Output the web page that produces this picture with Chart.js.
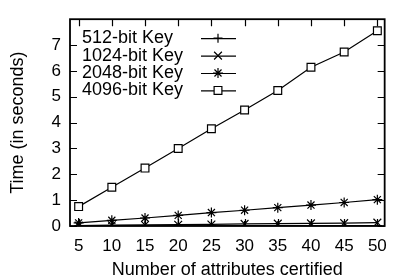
<!DOCTYPE html>
<html>
<head>
<meta charset="utf-8">
<script src="https://cdn.jsdelivr.net/npm/chart.js@4.4.0/dist/chart.umd.min.js"></script>
<style>
  html, body { margin: 0; padding: 0; background: #fff; }
  #wrap { width: 397px; height: 280px; }
</style>
</head>
<body>
<div id="wrap"><canvas id="chart"></canvas></div>
<script>
const attrs = [5, 10, 15, 20, 25, 30, 35, 40, 45, 50]
const labels = ["512-bit Key", "1024-bit Key", "2048-bit Key", "4096-bit Key"]
const key512 = [0.01, 0.01, 0.01, 0.01, 0.01, 0.02, 0.02, 0.02, 0.02, 0.02]
const key1024 = [0.02, 0.03, 0.04, 0.05, 0.06, 0.08, 0.09, 0.10, 0.11, 0.13]
const key2048 = [0.12, 0.22, 0.31, 0.41, 0.52, 0.61, 0.71, 0.81, 0.91, 1.02]
const key4096 = [0.75, 1.50, 2.24, 3.00, 3.76, 4.49, 5.24, 6.14, 6.73, 7.55]
const yTicks = [0, 1, 2, 3, 4, 5, 6, 7]

const FONT = "'Liberation Sans', Arial, Helvetica, sans-serif"

function pts(vals){
    return attrs.map((a, i) => ({x: a, y: vals[i]}))
}

function series(label, vals, style, radius){
    return {
        label: label,
        data: pts(vals),
        borderColor: '#000',
        borderWidth: 1.2,
        backgroundColor: '#fff',
        pointStyle: style,
        pointRadius: radius,
        pointBorderColor: '#000',
        pointBackgroundColor: '#fff',
        pointBorderWidth: 1.2,
        fill: false,
        tension: 0
    }
}

/**
 * gnuplot-like frame: box + inward ticks on all four sides
 */
const framePlugin = {
    id: 'frame',
    afterDraw(chart){
        const ctx = chart.ctx
        const a = chart.chartArea
        const xs = chart.scales.x, ys = chart.scales.y
        const len = 7
        ctx.save()
        ctx.strokeStyle = '#000'
        ctx.lineWidth = 1.2
        ctx.beginPath()
        attrs.forEach(v => {
            const px = Math.round(xs.getPixelForValue(v)) + 0.5
            ctx.moveTo(px, a.bottom); ctx.lineTo(px, a.bottom - len)
            ctx.moveTo(px, a.top); ctx.lineTo(px, a.top + len)
        })
        yTicks.forEach(v => {
            const py = Math.round(ys.getPixelForValue(v)) + 0.5
            ctx.moveTo(a.left, py); ctx.lineTo(a.left + len, py)
            ctx.moveTo(a.right, py); ctx.lineTo(a.right - len, py)
        })
        ctx.stroke()
        ctx.lineWidth = 1.8
        ctx.strokeRect(a.left, a.top, a.right - a.left, a.bottom - a.top)
        ctx.restore()
    }
}

/**
 * Key inside the plot, text on the left and sample on the right
 */
const keyPlugin = {
    id: 'key',
    afterDraw(chart){
        const ctx = chart.ctx
        const a = chart.chartArea
        ctx.save()
        ctx.font = '18px ' + FONT
        ctx.fillStyle = '#000'
        ctx.textBaseline = 'middle'
        ctx.textAlign = 'left'
        chart.data.datasets.forEach((ds, i) => {
            const y = a.top + 19 + i * 17.4
            ctx.fillText(ds.label, a.left + 12, y)
            ctx.strokeStyle = '#000'
            ctx.lineWidth = 1.2
            ctx.beginPath()
            ctx.moveTo(a.left + 131, y + 0.5)
            ctx.lineTo(a.left + 166, y + 0.5)
            ctx.stroke()
            ctx.fillStyle = '#fff'
            Chart.helpers.drawPoint(ctx, {pointStyle: ds.pointStyle, radius: ds.pointRadius, rotation: 0, borderWidth: 1.2}, a.left + 148, y)
            ctx.fillStyle = '#000'
        })
        ctx.restore()
    }
}

const lineChart = new Chart(document.getElementById('chart').getContext('2d'), {
    type: 'line',
    data: {
        datasets: [
            series(labels[0], key512, 'cross', 4.5),
            series(labels[1], key1024, 'crossRot', 5.5),
            series(labels[2], key2048, 'star', 5),
            series(labels[3], key4096, 'rect', 5.5)
        ]
    },
    options: {
        responsive: true,
        maintainAspectRatio: false,
        animation: false,
        layout: { padding: { top: 13, right: 8, left: 0, bottom: 0 } },
        plugins: {
            legend: { display: false },
            tooltip: { enabled: false }
        },
        scales: {
            x: {
                type: 'linear',
                min: 3.7,
                max: 51.1,
                grid: { display: false, drawTicks: false },
                border: { display: false },
                ticks: {
                    stepSize: 5,
                    includeBounds: false,
                    padding: 10,
                    color: '#000',
                    font: { family: FONT, size: 17 },
                    maxRotation: 0
                },
                title: {
                    display: true,
                    text: 'Number of attributes certified',
                    color: '#000',
                    font: { family: FONT, size: 18, lineHeight: 1.1 },
                    padding: 0
                },
                afterFit(scale){ scale.height = 54 }
            },
            y: {
                min: 0,
                max: 8,
                grid: { display: false, drawTicks: false },
                border: { display: false },
                ticks: {
                    stepSize: 1,
                    includeBounds: false,
                    padding: 9,
                    color: '#000',
                    font: { family: FONT, size: 17 },
                    callback: v => (v > 7 ? '' : v)
                },
                title: {
                    display: true,
                    text: 'Time (in seconds)',
                    color: '#000',
                    font: { family: FONT, size: 18, lineHeight: 1.2 },
                    padding: { top: 7, bottom: 0 }
                },
                afterFit(scale){ scale.width = 70 }
            }
        }
    },
    plugins: [framePlugin, keyPlugin]
})
</script>
</body>
</html>
